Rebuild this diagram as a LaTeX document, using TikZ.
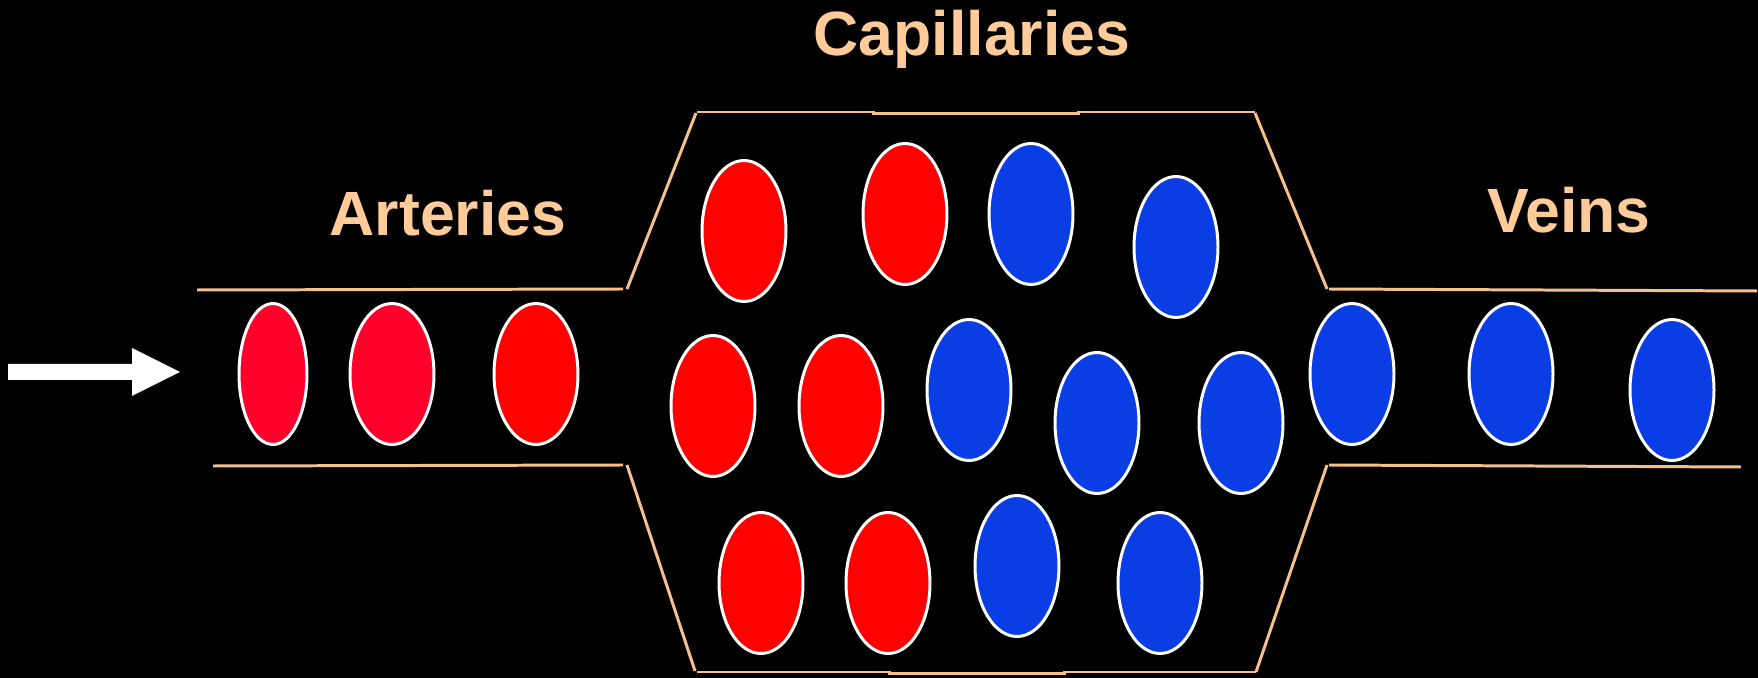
\documentclass[tikz,border=0pt]{standalone}
\usepackage{fontspec}
\setmainfont{Liberation Sans}
\usetikzlibrary{shapes.geometric}
\definecolor{tubeline}{RGB}{245,192,140}
\definecolor{labeltext}{RGB}{255,204,153}
\definecolor{cellred}{RGB}{255,0,0}
\definecolor{cellpink}{RGB}{255,0,42}
\definecolor{cellblue}{RGB}{11,61,229}
\tikzset{
  cell/.style={ellipse, draw=white, line width=1.7pt, inner sep=0pt, outer sep=0pt,
    minimum width=1.68cm, minimum height=2.82cm},
  redcell/.style={cell, fill=cellred},
  pinkcell/.style={cell, fill=cellpink},
  bluecell/.style={cell, fill=cellblue},
  tube/.style={draw=tubeline, line width=1.7pt},
  lbl/.style={text=labeltext, font=\bfseries\fontsize{35.6}{40}\selectfont, anchor=base, inner sep=0pt}
}
\begin{document}
\begin{tikzpicture}[x=0.02cm, y=-0.02cm]
\fill[black] (0,0) rectangle (1758,678);
\useasboundingbox (0,0) rectangle (1758,678);
% tube outline
\draw[tube] (197,290) -- (623,289);
\draw[tube] (213,466) -- (623,465);
\draw[tube] (627,289) -- (696,113);
\draw[tube] (627,465) -- (695,671);
\draw[tube] (697,112) -- (873,112) -- (873,113.5) -- (1078,113.5) -- (1078,112) -- (1255,112);
\draw[tube] (697,672) -- (889,672) -- (889,673.5) -- (1064,673.5) -- (1064,672) -- (1256,672);
\draw[tube] (1255,113) -- (1327,289);
\draw[tube] (1327,465) -- (1256,672);
\draw[tube] (1329,289) -- (1757,291);
\draw[tube] (1329,465) -- (1741,467);
% arrow
\fill[white] (8,364) -- (132,364) -- (132,348) -- (180,372) -- (132,396) -- (132,380) -- (8,380) -- cycle;
% arteries
\node[pinkcell, minimum width=1.36cm] (a1) at (273,374) {};
\node[pinkcell] (a2) at (392,374) {};
\node[redcell] (a3) at (536,374) {};
% capillaries
\node[redcell] (c1) at (744,231) {};
\node[redcell] (c2) at (905,214) {};
\node[bluecell] (c3) at (1031,214) {};
\node[bluecell] (c4) at (1176,247) {};
\node[redcell] (c5) at (713,406) {};
\node[redcell] (c6) at (841,406) {};
\node[bluecell] (c7) at (969,390) {};
\node[bluecell] (c8) at (1097,423) {};
\node[bluecell] (c9) at (1241,423) {};
\node[redcell] (c10) at (761,583) {};
\node[redcell] (c11) at (888,583) {};
\node[bluecell] (c12) at (1017,566) {};
\node[bluecell] (c13) at (1160,583) {};
% veins
\node[bluecell] (v1) at (1352,374) {};
\node[bluecell] (v2) at (1511,374) {};
\node[bluecell] (v3) at (1672,390) {};
% labels
\node[lbl] (tcap) at (972,56) {Capillaries};
\node[lbl] (tart) at (448,236) {Arteries};
\node[lbl] (tvein) at (1569,233) {Veins};
\end{tikzpicture}
\end{document}
